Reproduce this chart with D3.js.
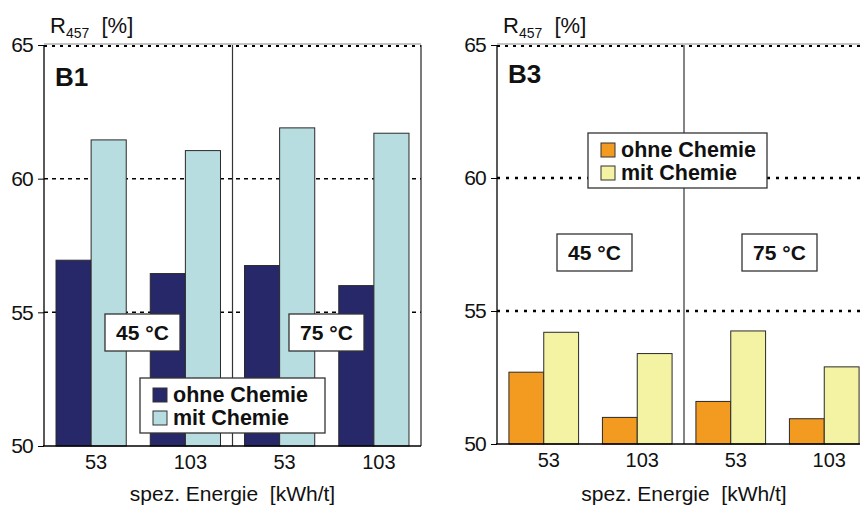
<!DOCTYPE html>
<html>
<head>
<meta charset="utf-8">
<script src="https://cdn.jsdelivr.net/npm/d3@7"></script>
<style>
  body { margin: 0; background: #fff; }
  svg { font-family: "Liberation Sans", Arial, sans-serif; }
</style>
</head>
<body>
<div id="chart"></div>
<script>
// categories
var energy = ["53", "103", "53", "103"];
var series = ["ohne Chemie", "mit Chemie"];
var temps = ["45 °C", "75 °C"];
var yTicks = [50, 55, 60, 65];

// values, R457 [%]
var b1Ohne = [56.95, 56.45, 56.75, 56.0];
var b1Mit = [61.45, 61.05, 61.9, 61.7];
var b3Ohne = [52.7, 51.0, 51.6, 50.95];
var b3Mit = [54.2, 53.4, 54.25, 52.9];

var svg = d3.select("#chart").append("svg")
    .attr("width", 860)
    .attr("height", 508);

function panel(cfg) {
    var x = d3.scaleBand()
        .domain(d3.range(energy.length))
        .range([cfg.x0, cfg.x1])
        .paddingInner(0.255)
        .paddingOuter(0.1275);
    var xs = d3.scaleBand()
        .domain(series)
        .range([0, x.bandwidth()]);
    var y = d3.scaleLinear()
        .domain([50, 65])
        .range([cfg.yBottom, cfg.yTop]);

    var g = svg.append("g");

    // dotted gridlines
    g.selectAll(".grid")
        .data([55, 60])
        .enter().append("line")
        .attr("x1", cfg.x0).attr("x2", cfg.x1)
        .attr("y1", function (d) { return y(d); })
        .attr("y2", function (d) { return y(d); })
        .attr("stroke", "#000")
        .attr("stroke-width", cfg.gridWidth)
        .attr("stroke-dasharray", cfg.gridDash);

    // top line at 65: thin grey + dots under it
    g.append("line")
        .attr("x1", cfg.x0).attr("x2", cfg.x1)
        .attr("y1", y(65) - 1).attr("y2", y(65) - 1)
        .attr("stroke", "#888").attr("stroke-width", 1);
    g.append("line")
        .attr("x1", cfg.x0).attr("x2", cfg.x1)
        .attr("y1", y(65) + 1).attr("y2", y(65) + 1)
        .attr("stroke", "#000").attr("stroke-width", 2)
        .attr("stroke-dasharray", "3,5");

    // separator between 45 and 75 degrees
    var mid = (x(1) + x.bandwidth() + x(2)) / 2;
    g.append("line")
        .attr("x1", mid).attr("x2", mid)
        .attr("y1", y(65)).attr("y2", y(50))
        .attr("stroke", cfg.midColor)
        .attr("stroke-width", cfg.midWidth);

    if (cfg.rightBorder) {
        g.append("line")
            .attr("x1", cfg.x1).attr("x2", cfg.x1)
            .attr("y1", y(65)).attr("y2", y(50))
            .attr("stroke", "#222").attr("stroke-width", 1.2);
    }

    // bars
    var rows = [];
    energy.forEach(function (e, i) {
        rows.push({ i: i, s: series[0], v: cfg.ohne[i] });
        rows.push({ i: i, s: series[1], v: cfg.mit[i] });
    });
    g.selectAll(".bar")
        .data(rows)
        .enter().append("rect")
        .attr("x", function (d) { return x(d.i) + xs(d.s); })
        .attr("y", function (d) { return y(d.v); })
        .attr("width", xs.bandwidth())
        .attr("height", function (d) { return y(50) - y(d.v); })
        .attr("fill", function (d) { return d.s === series[0] ? cfg.colors[0] : cfg.colors[1]; })
        .attr("stroke", "#2a2a2a")
        .attr("stroke-width", 1);

    // y axis
    var ya = g.append("g")
        .attr("transform", "translate(" + cfg.x0 + ",0)")
        .call(d3.axisLeft(y).tickValues(yTicks).tickSize(6).tickPadding(5));
    ya.select(".domain").attr("stroke", "#000").attr("stroke-width", 1.3)
        .attr("d", "M0," + y(65) + "V" + y(50));
    ya.selectAll("line").attr("stroke", "#000");
    ya.selectAll("text")
        .attr("font-size", 21)
        .attr("font-family", "Liberation Sans, Arial, sans-serif")
        .attr("letter-spacing", -0.8)
        .attr("fill", "#111");

    // x axis
    var xa = g.append("g")
        .attr("transform", "translate(0," + y(50) + ")")
        .call(d3.axisBottom(x).tickSize(0).tickPadding(9)
            .tickFormat(function (i) { return energy[i]; }));
    xa.select(".domain").attr("stroke", "#000").attr("stroke-width", 1.3)
        .attr("d", "M" + (cfg.x0 - 1) + ",0H" + cfg.x1);
    xa.selectAll("text")
        .attr("font-size", 20)
        .attr("font-family", "Liberation Sans, Arial, sans-serif")
        .attr("dx", 5)
        .attr("fill", "#111");

    // axis title
    g.append("text")
        .attr("x", mid).attr("y", 501)
        .attr("text-anchor", "middle")
        .attr("font-size", 21)
        .attr("fill", "#111")
        .text("spez. Energie  [kWh/t]")
        .attr("xml:space", "preserve");

    // y title R457 [%]
    var t = g.append("text")
        .attr("x", cfg.x0 + 6).attr("y", 33)
        .attr("font-size", 22)
        .attr("fill", "#111")
        .attr("xml:space", "preserve");
    t.append("tspan").text("R");
    t.append("tspan").attr("font-size", 14).attr("dy", 5).text("457");
    t.append("tspan").attr("dy", -5).text("  [%]");

    // panel name
    g.append("text")
        .attr("x", cfg.x0 + 11).attr("y", cfg.nameY)
        .attr("font-size", 26)
        .attr("font-weight", "bold")
        .attr("fill", "#111")
        .text(cfg.name);

    // temperature labels
    temps.forEach(function (tl, k) {
        var b = cfg.tempBoxes[k];
        g.append("rect")
            .attr("x", b[0]).attr("y", b[1])
            .attr("width", 75).attr("height", 37)
            .attr("fill", "#fff")
            .attr("stroke", "#333").attr("stroke-width", 1.3);
        g.append("text")
            .attr("x", b[0] + 37.5).attr("y", b[1] + 26)
            .attr("text-anchor", "middle")
            .attr("font-size", 21)
            .attr("font-weight", "bold")
            .attr("fill", "#111")
            .attr("xml:space", "preserve")
            .text(tl);
    });

    // legend
    var L = cfg.legend;
    g.append("rect")
        .attr("x", L[0]).attr("y", L[1])
        .attr("width", L[2]).attr("height", 55)
        .attr("fill", "#fff")
        .attr("stroke", "#333").attr("stroke-width", 1.3);
    series.forEach(function (s, k) {
        g.append("rect")
            .attr("x", L[0] + 13).attr("y", L[1] + 10 + k * 23)
            .attr("width", 14).attr("height", 14)
            .attr("fill", cfg.colors[k])
            .attr("stroke", "#333").attr("stroke-width", 1);
        g.append("text")
            .attr("x", L[0] + 33).attr("y", L[1] + 24 + k * 23)
            .attr("font-size", 21.5)
            .attr("font-weight", "bold")
            .attr("fill", "#111")
            .text(s);
    });
}

panel({
    name: "B1", nameY: 86,
    x0: 44, x1: 421, yTop: 45, yBottom: 446,
    ohne: b1Ohne, mit: b1Mit,
    colors: ["#27286a", "#b8dde0"],
    gridWidth: 1.5, gridDash: "4,4",
    midColor: "#333", midWidth: 1.2,
    rightBorder: true,
    tempBoxes: [[105, 314], [289, 314]],
    legend: [140, 378, 185]
});

panel({
    name: "B3", nameY: 83,
    x0: 497, x1: 871, yTop: 45, yBottom: 444,
    ohne: b3Ohne, mit: b3Mit,
    colors: ["#f39a21", "#f4f2a3"],
    gridWidth: 2.5, gridDash: "3,6",
    midColor: "#777", midWidth: 1.8,
    rightBorder: false,
    tempBoxes: [[557, 234], [742, 234]],
    legend: [588, 133, 179]
});
</script>
</body>
</html>
